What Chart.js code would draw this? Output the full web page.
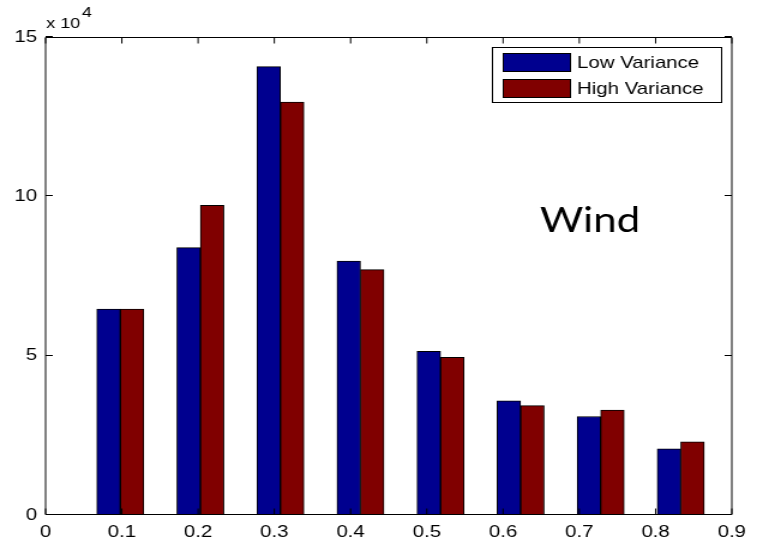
<!DOCTYPE html>
<html>
<head>
<meta charset="utf-8">
<script src="https://cdn.jsdelivr.net/npm/chart.js@4/dist/chart.umd.min.js"></script>
<style>
  html, body { margin: 0; padding: 0; background: #fff; }
</style>
</head>
<body>
<!-- drawn on a narrower bitmap and shown stretched to 763px wide -->
<canvas id="c" width="636" height="544" style="display:block;width:763px;height:544px"></canvas>
<script>
// histogram bin centres (x) and counts per series
const binCenters   = [0.098, 0.203, 0.308, 0.413, 0.518, 0.623, 0.728, 0.833];
const lowVariance  = [64600, 83900, 140700, 79700, 51400, 35800, 30900, 20800];
const highVariance = [64600, 97200, 129600, 77000, 49500, 34300, 32900, 23000];
const seriesLabels = ['Low Variance', 'High Variance'];
const seriesColors = ['#00008f', '#800000'];
const yExponent = 4;            // y tick labels are shown in units of 10^4
const annotation = 'Wind';

const FONT = "'Liberation Sans', Arial, sans-serif";
const TICK_LEN = 6;

// MATLAB-style box: axis frame plus inward tick marks on all four sides
const axesBox = {
  id: 'axesBox',
  afterDatasetsDraw(chart) {
    const { ctx, chartArea: a, scales: { x, y } } = chart;
    ctx.save();
    ctx.strokeStyle = '#000';
    ctx.lineWidth = 1;
    const top = Math.round(a.top) + 0.5, bottom = Math.round(a.bottom) - 0.5;
    const left = a.left, right = a.right;
    ctx.beginPath();
    x.ticks.forEach(t => {
      const px = x.getPixelForValue(t.value);
      ctx.moveTo(px, bottom); ctx.lineTo(px, bottom - TICK_LEN);
      ctx.moveTo(px, top); ctx.lineTo(px, top + TICK_LEN);
    });
    y.ticks.forEach(t => {
      const py = Math.round(y.getPixelForValue(t.value)) - 0.5;
      ctx.moveTo(left, py); ctx.lineTo(left + TICK_LEN, py);
      ctx.moveTo(right, py); ctx.lineTo(right - TICK_LEN, py);
    });
    ctx.moveTo(left, top); ctx.lineTo(right, top); ctx.lineTo(right, bottom);
    ctx.lineTo(left, bottom); ctx.closePath();
    ctx.stroke();
    ctx.restore();
  }
};

// exponent label, in-plot annotation and boxed legend
const extras = {
  id: 'extras',
  afterDraw(chart) {
    const { ctx, chartArea: a } = chart;
    ctx.save();
    ctx.fillStyle = '#000';

    // "x 10^4" above the y axis
    ctx.font = `15px ${FONT}`;
    ctx.textBaseline = 'alphabetic';
    ctx.textAlign = 'left';
    const base = 'x 10';
    ctx.fillText(base, a.left + 0.5, 28);
    ctx.fillText(String(yExponent), a.left + ctx.measureText(base).width + 2, 17);

    // annotation
    ctx.font = `35px Lato, 'Open Sans', sans-serif`;
    ctx.fillText(annotation, 450, 232);

    // legend box
    const boxRight = a.right - 8, boxLeft = 410;
    const boxTop = a.top + 10, rowH = 26, boxH = 55;
    ctx.fillStyle = '#fff';
    ctx.fillRect(boxLeft, boxTop, boxRight - boxLeft, boxH);
    ctx.strokeStyle = '#000';
    ctx.lineWidth = 1;
    ctx.strokeRect(boxLeft + 0.5, Math.round(boxTop) + 0.5, boxRight - boxLeft - 1, boxH);
    ctx.font = `17px ${FONT}`;
    ctx.textBaseline = 'middle';
    chart.data.datasets.forEach((ds, i) => {
      const cy = boxTop + 15.5 + i * rowH;
      ctx.fillStyle = ds.backgroundColor;
      ctx.fillRect(419, cy - 9.5, 57, 19);
      ctx.strokeRect(419.5, Math.round(cy - 9.5) + 0.5, 56, 18);
      ctx.fillStyle = '#000';
      ctx.fillText(ds.label, 481, cy + 0.5);
    });
    ctx.restore();
  }
};

const toPoints = vals => vals.map((v, i) => ({ x: binCenters[i], y: v }));

new Chart(document.getElementById('c'), {
  type: 'bar',
  data: {
    datasets: [lowVariance, highVariance].map((vals, i) => ({
      label: seriesLabels[i],
      data: toPoints(vals),
      backgroundColor: seriesColors[i],
      borderColor: '#000',
      borderWidth: 1,
      borderSkipped: false,
      barThickness: 19.6
    }))
  },
  options: {
    responsive: false,
    devicePixelRatio: 1,
    animation: false,
    layout: { padding: { left: 0, right: 26, top: 37, bottom: 0 } },
    plugins: { legend: { display: false }, tooltip: { enabled: false } },
    scales: {
      x: {
        type: 'linear',
        min: 0, max: 0.9,
        offset: false,
        grid: { display: false, drawTicks: false },
        border: { display: false },
        ticks: {
          stepSize: 0.1,
          padding: 7,
          color: '#000',
          font: { family: FONT, size: 17 },
          maxRotation: 0,
          callback: v => (Math.round(v * 10) / 10).toString()
        },
        afterFit: s => { s.height = 29; }
      },
      y: {
        min: 0, max: 150000,
        grid: { display: false, drawTicks: false },
        border: { display: false },
        ticks: {
          stepSize: 50000,
          padding: 7,
          color: '#000',
          font: { family: FONT, size: 17 },
          callback: v => String(v / Math.pow(10, yExponent))
        },
        afterFit: s => { s.width = 38; }
      }
    }
  },
  plugins: [axesBox, extras]
});
</script>
</body>
</html>
